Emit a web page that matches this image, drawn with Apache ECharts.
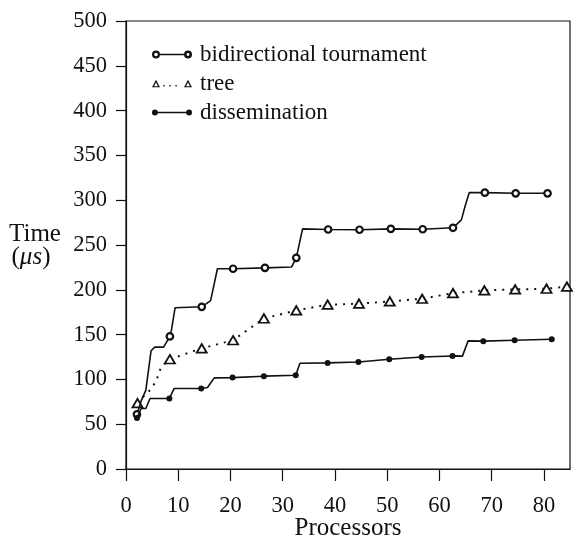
<!DOCTYPE html>
<html><head><meta charset="utf-8">
<script src="https://cdn.jsdelivr.net/npm/echarts@6/dist/echarts.min.js"></script>
<style>html,body{margin:0;padding:0;background:#fff}#c{width:573px;height:544px}</style>
</head><body><div id="c"></div>
<script>
// ---- data ----
const xTicks = [0, 10, 20, 30, 40, 50, 60, 70, 80];
const yTicks = [0, 50, 100, 150, 200, 250, 300, 350, 400, 450, 500];

const seriesNames = ['bidirectional tournament', 'tree', 'dissemination'];

const tournamentP = [2.1, 2.9, 3.8, 4.8, 5.5, 7.2, 8.4, 8.7, 9.4, 14.5, 16.2, 17.5, 20.5, 26.6, 31.7, 32.6, 33.8, 38.7, 44.7, 50.7, 56.8, 62.6, 64.2, 64.9, 65.7, 68.7, 74.6, 80.7];
const tournamentT = [61, 76, 88, 132, 136, 136, 148, 155, 180, 181, 188, 223.5, 223.5, 224.5, 225.5, 235.7, 268, 267.3, 267, 268, 267.6, 269.2, 278, 293, 308.4, 308.4, 307.7, 307.7];
const tournamentMarked = [1,0,0,0,0,0,1,0,0,1,0,0,1,1,0,1,0,1,1,1,1,1,0,0,0,1,1,1];

const treeP = [2.2, 3.2, 4.3, 5.1, 5.9, 6.4, 7.1, 8.4, 14.5, 20.5, 26.4, 32.6, 38.6, 44.6, 50.5, 56.7, 62.6, 68.6, 74.5, 80.5, 84.4];
const treeT = [73.5, 80, 86, 91.7, 99.9, 109.5, 115.8, 122.5, 134.7, 143.7, 168, 177, 183.4, 184.5, 187, 190, 196.3, 199.3, 200.4, 201.2, 203.5];
const treeMarked = [1,0,0,0,0,0,0,1,1,1,1,1,1,1,1,1,1,1,1,1,1];

const dissP = [2.1, 2.9, 3.8, 4.6, 8.3, 9.2, 14.4, 15.6, 16.9, 20.4, 26.4, 32.5, 33.3, 38.6, 44.5, 50.4, 56.6, 62.5, 64.4, 65.5, 68.4, 74.4, 81.5];
const dissT = [57, 67.5, 67.5, 78.7, 78.7, 89.8, 89.8, 91, 101.7, 102, 103.6, 104.7, 118, 118.4, 119.5, 122.5, 125, 126.2, 126, 143, 142.7, 143.7, 144.8];
const dissMarked = [1,0,0,0,1,0,1,0,0,1,1,1,0,1,1,1,1,1,0,0,1,1,1];

// ---- chart ----
const FONT = '"Liberation Serif", "Times New Roman", serif';
const INK = '#111';

function build(P, T, M, sym) {
  return P.map((p, i) => ({ value: [p, T[i]], symbol: M[i] ? sym : 'none' }));
}

const iconTournament = 'path://M0,4A4,4,0,1,1,8,4A4,4,0,1,1,0,4Z M2.2,4A1.8,1.8,0,1,0,5.8,4A1.8,1.8,0,1,0,2.2,4Z M8,3.35L32,3.35L32,4.65L8,4.65Z M32,4A4,4,0,1,1,40,4A4,4,0,1,1,32,4Z M34.6,4A1.4,1.4,0,1,0,37.4,4A1.4,1.4,0,1,0,34.6,4Z';
const iconTree = 'path://M0,8L4,0.5L8,8Z M2,6.9L6,6.9L4,3.2Z M11.4,5.8L12.8,5.8L12.8,7.2L11.4,7.2Z M17.4,5.8L18.8,5.8L18.8,7.2L17.4,7.2Z M23.4,5.8L24.8,5.8L24.8,7.2L23.4,7.2Z M32,8L36,0.5L40,8Z M34,6.9L38,6.9L36,3.2Z';
const iconDiss = 'path://M0.8,4A2.8,2.8,0,1,1,6.4,4A2.8,2.8,0,1,1,0.8,4Z M6,3.35L34,3.35L34,4.65L6,4.65Z M33.6,4A2.8,2.8,0,1,1,39.2,4A2.8,2.8,0,1,1,33.6,4Z';

const chart = echarts.init(document.getElementById('c'), null, { renderer: 'canvas' });
chart.setOption({
  backgroundColor: '#fff',
  animation: false,
  grid: { left: 126, right: 3, top: 21, bottom: 75, show: true, borderColor: INK, borderWidth: 1.2, outerBoundsMode: 'none', containLabel: false },
  legend: {
    orient: 'vertical', left: 152, top: 43, padding: 0, itemGap: 6, itemWidth: 40, itemHeight: 8,
    selectedMode: false,
    textStyle: { fontFamily: FONT, fontSize: 23, color: INK, lineHeight: 23, padding: [0, 0, 0, 3] },
    itemStyle: { color: INK, borderWidth: 0 },
    data: [
      { name: seriesNames[0], icon: iconTournament },
      { name: seriesNames[1], icon: iconTree },
      { name: seriesNames[2], icon: iconDiss }
    ]
  },
  xAxis: {
    type: 'value', min: 0, max: 85, interval: 10,
    axisLine: { show: true, onZero: false, lineStyle: { color: INK, width: 1.2 } },
    axisTick: { show: true, inside: false, length: 12, customValues: xTicks, lineStyle: { color: INK, width: 1.2 } },
    axisLabel: { customValues: xTicks, margin: 26, fontFamily: FONT, fontSize: 22.5, color: INK },
    splitLine: { show: false },
    name: 'Processors', nameLocation: 'middle', nameGap: 47, nameMoveOverlap: false,
    nameTextStyle: { fontFamily: FONT, fontSize: 25, color: INK }
  },
  yAxis: {
    type: 'value', min: 0, max: 500, interval: 50,
    axisLine: { show: true, lineStyle: { color: INK, width: 1.2 } },
    axisTick: { show: true, inside: false, length: 10, customValues: yTicks, lineStyle: { color: INK, width: 1.2 } },
    axisLabel: { customValues: yTicks, margin: 19, fontFamily: FONT, fontSize: 22.5, color: INK },
    splitLine: { show: false }
  },
  graphic: [
    { type: 'text', x: 35, y: 234, style: { text: 'Time', font: '25px ' + FONT, fill: INK, align: 'center', verticalAlign: 'middle' } },
    { type: 'text', x: 31, y: 257, style: {
        text: '{p|(}{i|μs}{p|)}', fill: INK, align: 'center', verticalAlign: 'middle',
        rich: { p: { fontFamily: FONT, fontSize: 25, color: INK }, i: { fontFamily: FONT, fontSize: 25, fontStyle: 'italic', color: INK } }
    } }
  ],
  series: [
    {
      name: seriesNames[0], type: 'line', showSymbol: true, showAllSymbol: true,
      symbol: 'circle', symbolSize: 6.5,
      itemStyle: { color: '#fff', borderColor: INK, borderWidth: 2.2 },
      lineStyle: { color: INK, width: 1.6 },
      data: build(tournamentP, tournamentT, tournamentMarked, 'circle'), z: 3
    },
    {
      name: seriesNames[1], type: 'line', showSymbol: true, showAllSymbol: true,
      symbol: 'triangle', symbolSize: [10, 8.5],
      itemStyle: { color: '#fff', borderColor: INK, borderWidth: 1.8 },
      lineStyle: { color: INK, width: 2, type: [2, 6] },
      data: build(treeP, treeT, treeMarked, 'triangle'), z: 2
    },
    {
      name: seriesNames[2], type: 'line', showSymbol: true, showAllSymbol: true,
      symbol: 'circle', symbolSize: 6,
      itemStyle: { color: INK, borderColor: INK, borderWidth: 0 },
      lineStyle: { color: INK, width: 1.6 },
      data: build(dissP, dissT, dissMarked, 'circle'), z: 4
    }
  ]
});
</script>
</body></html>
